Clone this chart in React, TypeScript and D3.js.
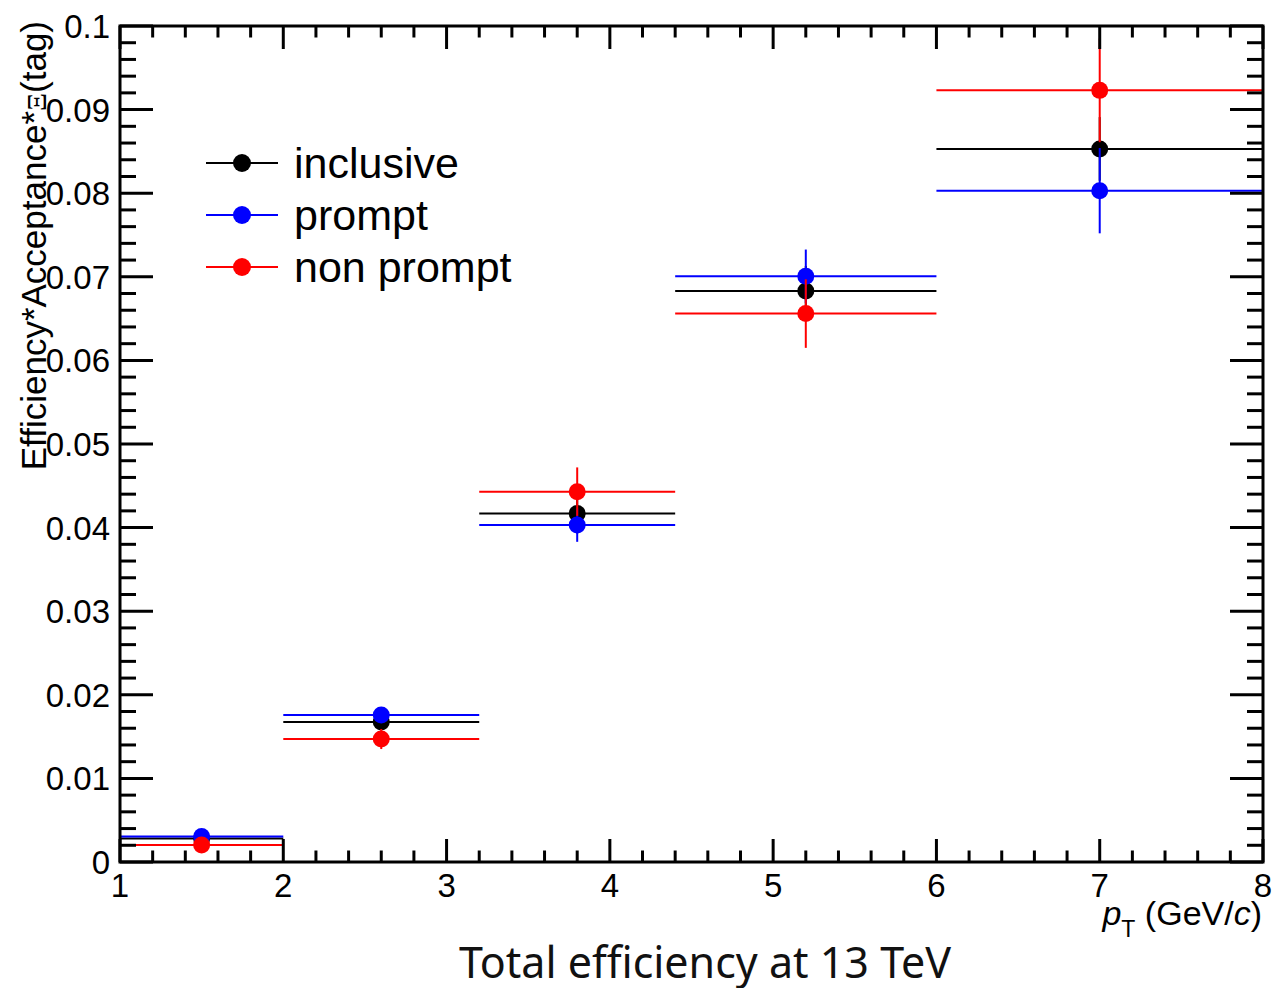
import React from "react";
import * as d3 from "d3";

// ---- data ----
const binEdges = [1, 2, 3.2, 4.4, 6, 8];
const binCenters = [1.5, 2.6, 3.8, 5.2, 7.0];
const inclusiveVals = [0.0028, 0.01675, 0.0417, 0.0683, 0.0853];
const inclusiveErrs = [0.0002, 0.0007, 0.0024, 0.003, 0.0038];
const promptVals = [0.00305, 0.01758, 0.0403, 0.07006, 0.0803];
const promptErrs = [0.0003, 0.0008, 0.002, 0.0032, 0.0051];
const nonPromptVals = [0.00203, 0.01471, 0.0443, 0.0656, 0.0923];
const nonPromptErrs = [0.0004, 0.0012, 0.0029, 0.0041, 0.0062];
const seriesNames = ["inclusive", "prompt", "non prompt"];
const seriesColors = ["#000000", "#0000ff", "#ff0000"];
const xTickValues = [1, 2, 3, 4, 5, 6, 7, 8];
const xTickLabels = ["1", "2", "3", "4", "5", "6", "7", "8"];
const yTickValues = [0, 0.01, 0.02, 0.03, 0.04, 0.05, 0.06, 0.07, 0.08, 0.09, 0.1];
const yTickLabels = ["0", "0.01", "0.02", "0.03", "0.04", "0.05", "0.06", "0.07", "0.08", "0.09", "0.1"];
const xMinorStep = 0.2;
const yMinorStep = 0.002;

const W = 1272;
const H = 988;
const L = 120, R = 1263, T = 26, B = 862;
const FONT = "'Liberation Sans', Arial, Helvetica, sans-serif";

export default function App() {
  const x = d3.scaleLinear().domain([1, 8]).range([L, R]);
  const y = d3.scaleLinear().domain([0, 0.1]).range([B, T]);

  const xMinor = d3.range(1, 8 + 1e-9, xMinorStep).filter(v => Math.abs(v - Math.round(v)) > 1e-6);
  const yMinor = d3.range(0, 0.1 + 1e-9, yMinorStep).filter(v => Math.abs(v * 100 - Math.round(v * 100)) > 1e-6);

  const series = [
    { vals: inclusiveVals, errs: inclusiveErrs },
    { vals: promptVals, errs: promptErrs },
    { vals: nonPromptVals, errs: nonPromptErrs },
  ];

  const xMajLen = 23, xMinLen = 11.5, yMajLen = 33, yMinLen = 16;
  const r = 8.5;

  return (
    <svg width={W} height={H} style={{ position: "absolute", left: 0, top: 0, background: "#fff" }}>
      <rect x={0} y={0} width={W} height={H} fill="#fff" />
      {/* data */}
      {series.map((s, si) => (
        <g key={si} stroke={seriesColors[si]} fill={seriesColors[si]} strokeWidth={2}>
          {s.vals.map((v, i) => (
            <g key={i}>
              <line x1={x(binEdges[i])} x2={x(binEdges[i + 1])} y1={y(v)} y2={y(v)} />
              <line x1={x(binCenters[i])} x2={x(binCenters[i])} y1={y(v - s.errs[i])} y2={y(v + s.errs[i])} />
              <circle cx={x(binCenters[i])} cy={y(v)} r={r} stroke="none" />
            </g>
          ))}
        </g>
      ))}
      {/* ticks */}
      <g stroke="#000" strokeWidth={3}>
        {xTickValues.map(v => (
          <g key={"xM" + v}>
            <line x1={x(v)} x2={x(v)} y1={B} y2={B - xMajLen} />
            <line x1={x(v)} x2={x(v)} y1={T} y2={T + xMajLen} />
          </g>
        ))}
        {xMinor.map(v => (
          <g key={"xm" + v}>
            <line x1={x(v)} x2={x(v)} y1={B} y2={B - xMinLen} />
            <line x1={x(v)} x2={x(v)} y1={T} y2={T + xMinLen} />
          </g>
        ))}
        {yTickValues.map(v => (
          <g key={"yM" + v}>
            <line x1={L} x2={L + yMajLen} y1={y(v)} y2={y(v)} />
            <line x1={R} x2={R - yMajLen} y1={y(v)} y2={y(v)} />
          </g>
        ))}
        {yMinor.map(v => (
          <g key={"ym" + v}>
            <line x1={L} x2={L + yMinLen} y1={y(v)} y2={y(v)} />
            <line x1={R} x2={R - yMinLen} y1={y(v)} y2={y(v)} />
          </g>
        ))}
      </g>
      <rect x={L} y={T} width={R - L} height={B - T} fill="none" stroke="#000" strokeWidth={3} />
      {/* tick labels */}
      <g fontFamily={FONT} fontSize={33} fill="#000">
        {xTickValues.map((v, i) => (
          <text key={"xl" + v} x={x(v)} y={897} textAnchor="middle">{xTickLabels[i]}</text>
        ))}
        {yTickValues.map((v, i) => (
          <text key={"yl" + v} x={110} y={y(v) + 12} textAnchor="end">{yTickLabels[i]}</text>
        ))}
      </g>
      {/* axis titles */}
      <text x={1262} y={925} textAnchor="end" fontFamily={FONT} fontSize={34} fill="#000">
        <tspan fontStyle="italic">p</tspan>
        <tspan fontSize={23} dy={12}>T</tspan>
        <tspan dy={-12}> (GeV/</tspan>
        <tspan fontStyle="italic">c</tspan>
        <tspan>)</tspan>
      </text>
      <text transform="translate(46,21) rotate(-90)" textAnchor="end" fontFamily={FONT} fontSize={35} fill="#000">
        Efficiency*Acceptance*<tspan fontFamily="'Liberation Serif', serif" fontSize={28}>Ξ</tspan>(tag)
      </text>
      {/* legend */}
      {seriesNames.map((n, i) => {
        const cy = 163 + i * 52;
        return (
          <g key={n}>
            <line x1={206} x2={278} y1={cy} y2={cy} stroke={seriesColors[i]} strokeWidth={2} />
            <circle cx={242} cy={cy} r={9} fill={seriesColors[i]} />
            <text x={294} y={cy + 15} fontFamily={FONT} fontSize={43} fill="#000">{n}</text>
          </g>
        );
      })}
      {/* title */}
      <text x={705} y={978} textAnchor="middle" fontFamily="'Noto Sans', sans-serif" fontSize={43} fill="#111">
        Total efficiency at 13 TeV
      </text>
    </svg>
  );
}
